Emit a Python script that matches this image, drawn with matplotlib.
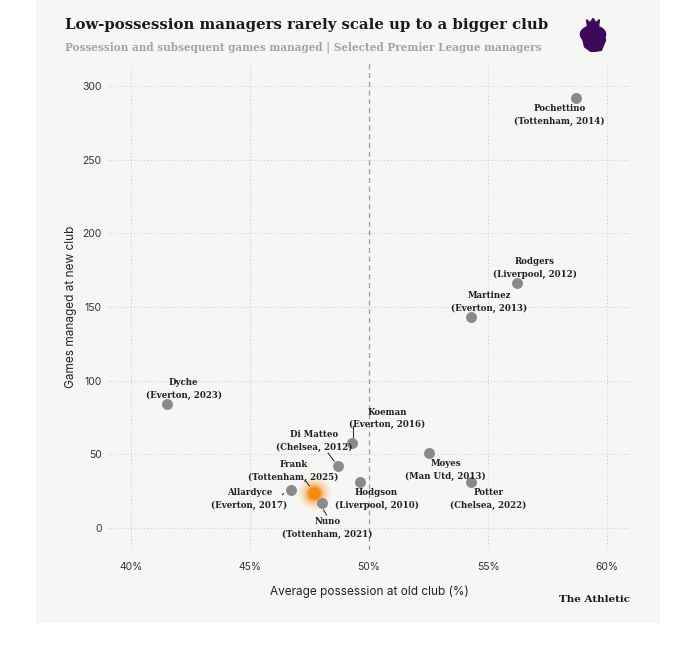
import numpy as np
import matplotlib.pyplot as plt
from matplotlib.patches import Rectangle, Ellipse, Polygon

# data
managers = ['Pochettino', 'Rodgers', 'Martinez', 'Dyche', 'Koeman', 'Di Matteo',
            'Hodgson', 'Moyes', 'Potter', 'Allardyce', 'Frank', 'Nuno']
moves = ['Tottenham, 2014', 'Liverpool, 2012', 'Everton, 2013', 'Everton, 2023',
         'Everton, 2016', 'Chelsea, 2012', 'Liverpool, 2010', 'Man Utd, 2013',
         'Chelsea, 2022', 'Everton, 2017', 'Tottenham, 2025', 'Tottenham, 2021']
possession = [58.7, 56.2, 54.3, 41.5, 49.3, 48.7, 49.6, 52.5, 54.3, 46.7, 47.7, 48.0]
games = [292, 166, 143, 84, 58, 42, 31, 51, 31, 26, 24, 17]

xticks = [40, 45, 50, 55, 60]
yticks = [0, 50, 100, 150, 200, 250, 300]

# label offsets in pixels (dx, dy)
offsets = {
    'Pochettino': (-17, -17), 'Rodgers': (18, 15), 'Martinez': (18, 15),
    'Dyche': (17, 15), 'Koeman': (35, 24), 'Di Matteo': (-24, 25),
    'Hodgson': (17, -17), 'Moyes': (17, -17), 'Potter': (17, -17),
    'Allardyce': (-41, -9), 'Frank': (-21, 22), 'Nuno': (6, -25),
}
# short leader lines, start/end in pixels from the dot
leaders = {
    'Koeman': ((1, 6), (1, 17)),
    'Di Matteo': ((-4, 5), (-10, 13)),
    'Frank': ((-5, 7), (-9, 12)),
    'Nuno': ((2, -7), (5, -12)),
    'Allardyce': ((-7, -4), (-8, -5)),
}

W, H = 680, 662
fig = plt.figure(figsize=(W / 100, H / 100), dpi=100)
fig.patch.set_facecolor('white')


def fx(px):
    return px / W


def fy(py):
    return 1 - py / H


fig.patches.append(Rectangle((fx(36), fy(623)), fx(660) - fx(36), fy(0) - fy(623),
                             transform=fig.transFigure, facecolor='#f6f6f5',
                             edgecolor='none', zorder=-5))

ax = fig.add_axes([fx(107), fy(550), fx(631) - fx(107), fy(63) - fy(550)])
ax.set_facecolor('none')
ax.set_xlim(38.99, 61.0)
ax.set_ylim(-14.9, 315.5)
for s in ax.spines.values():
    s.set_visible(False)

ax.set_xticks(xticks)
ax.set_xticklabels([f'{t}%' for t in xticks])
ax.set_yticks(yticks)
ax.tick_params(length=0, labelsize=7.5, labelcolor='#333333', pad=4)
for lab in ax.get_xticklabels() + ax.get_yticklabels():
    lab.set_family('Inter')
ax.tick_params(axis='x', pad=9)

for t in xticks:
    if t == 50:
        ax.axvline(t, color='#999999', lw=0.9, ls=(0, (4, 3)), zorder=1)
    else:
        ax.axvline(t, color='#cfcfcf', lw=0.8, ls=(0, (1, 2)), zorder=1)
for t in yticks:
    ax.axhline(t, color='#cfcfcf', lw=0.8, ls=(0, (1, 2)), zorder=1)

ax.set_xlabel('Average possession at old club (%)', family='Inter', fontsize=8.5,
              color='#222222', labelpad=9)
ax.set_ylabel('Games managed at new club', family='Inter', fontsize=8.5,
              color='#222222', labelpad=4)

for name, x, y in zip(managers, possession, games):
    if name == 'Frank':
        # soft orange glow
        for s, a in [(620, 0.05), (480, 0.08), (360, 0.12), (260, 0.18),
                     (180, 0.3), (120, 0.5)]:
            ax.scatter(x, y, s=s, color='#f7941d', alpha=a, lw=0, zorder=3)
        ax.scatter(x, y, s=80, color='#f48a12', lw=0, zorder=4)
    else:
        ax.scatter(x, y, s=62, color='#8a8a8a', lw=0, zorder=3)

inv = ax.transData.inverted()
for name, move, x, y in zip(managers, moves, possession, games):
    dx, dy = offsets[name]
    ax.annotate(f'{name}\n({move})', (x, y), xytext=(dx, dy), textcoords='offset pixels',
                ha='center', va='center', family='DejaVu Serif', weight='bold',
                fontsize=6.2, color='#222222', linespacing=1.52, zorder=5)
    if name in leaders:
        (x0, y0), (x1, y1) = leaders[name]
        p0 = ax.transData.transform((x, y))
        a = inv.transform((p0[0] + x0, p0[1] + y0))
        b = inv.transform((p0[0] + x1, p0[1] + y1))
        ax.plot([a[0], b[0]], [a[1], b[1]], color='#333333', lw=0.8, zorder=4)

fig.text(fx(65), fy(25), 'Low-possession managers rarely scale up to a bigger club',
         family='DejaVu Serif', weight='bold', fontsize=10.7, color='#1a1a1a', va='center')
fig.text(fx(65), fy(47), 'Possession and subsequent games managed | Selected Premier League managers',
         family='DejaVu Serif', weight='bold', fontsize=7.6, color='#a5a5a5', va='center')
fig.text(fx(630), fy(600), 'The Athletic', family='DejaVu Serif', weight='bold',
         fontsize=7.5, color='#1a1a1a', ha='right', va='center')

# rough Premier League lion badge
lg = fig.add_axes([fx(579), fy(52), fx(607) - fx(579), fy(18) - fy(52)])
lg.set_xlim(0, 1)
lg.set_ylim(0, 1)
lg.axis('off')
purple = '#3d0a5b'
lg.add_patch(Polygon([(0.3, 0.76), (0.27, 0.95), (0.4, 0.86), (0.5, 0.99),
                      (0.6, 0.86), (0.73, 0.95), (0.7, 0.76)], color=purple))
lg.add_patch(Ellipse((0.5, 0.52), 0.9, 0.5, color=purple))
lg.add_patch(Polygon([(0.1, 0.5), (0.2, 0.15), (0.45, 0.0), (0.8, 0.05),
                      (0.95, 0.35), (0.9, 0.5)], color=purple))

fig.savefig('out.png', dpi=100)
